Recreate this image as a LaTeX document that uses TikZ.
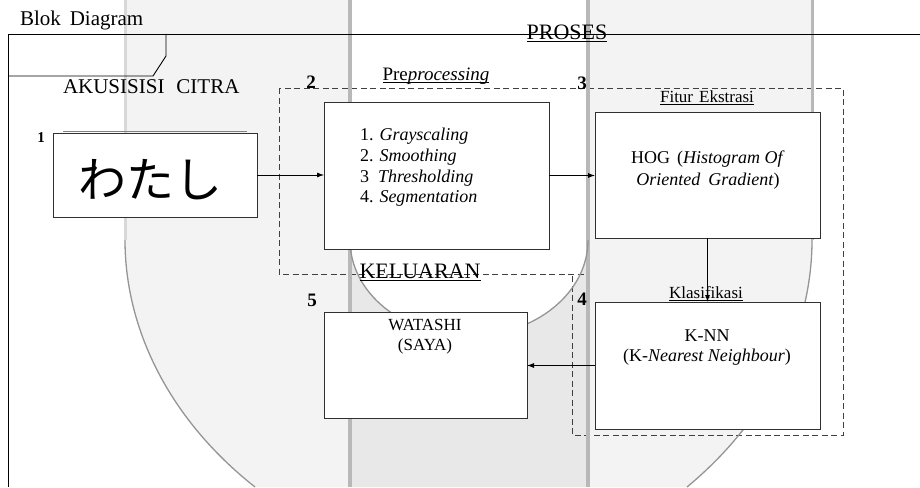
\documentclass[tikz,border=0pt]{standalone}
\usepackage{fontspec}
\setmainfont{Liberation Serif}
\newfontfamily\jpfont{Noto Sans CJK JP}
\usetikzlibrary{arrows.meta}
\definecolor{wmfill}{HTML}{F3F3F3}
\definecolor{wmmid}{HTML}{E8E8E8}
\definecolor{wmstripe}{HTML}{B8B8B8}
\definecolor{wmlight}{HTML}{D8D8D8}
\definecolor{wmcurve}{HTML}{959595}
\definecolor{boxline}{HTML}{303030}
\definecolor{dashline}{HTML}{404040}
\newcommand\setfs[1]{\fontsize{#1}{#1}\selectfont}
\begin{document}
\begin{tikzpicture}[x=1pt,y=-1pt,
  lbl/.style={inner sep=0pt,outer sep=0pt},
  boxn/.style={draw=boxline,fill=white,line width=0.9pt,inner sep=0pt,outer sep=0pt},
  dbox/.style={draw=dashline,line width=0.8pt,dash pattern=on 6pt off 3.5pt},
  arr/.style={-{Latex[length=7pt,width=5pt]},line width=0.8pt,draw=black},
  num/.style={inner sep=0pt,outer sep=0pt,font=\bfseries\setfs{19}},
  uline/.style={line width=0.8pt,draw=black}]
\useasboundingbox (0,0) rectangle (920,487);

% ---- background watermark shape ----
\fill[wmfill] (125,0) -- (125,240) .. controls (125,330) and (170,420) .. (255,487)
  -- (687,487) .. controls (768,420) and (812,330) .. (812,240) -- (812,0) -- (588,0)
  -- (588,240) .. controls (588,293) and (535,336) .. (469,336)
  .. controls (403,336) and (350,293) .. (350,240) -- (350,0) -- cycle;
\fill[wmmid] (350,240) .. controls (350,293) and (403,336) .. (469,336)
  .. controls (535,336) and (588,293) .. (588,240) -- (588,487) -- (350,487) -- cycle;

% ---- dashed group boxes ----
\draw[dbox] (279,88) rectangle (588,274);
\draw[dbox] (588,88) -- (843,88) -- (843,435) -- (572,435) -- (572,274);

% ---- watermark edges ----
\draw[wmlight,line width=3pt] (125,0) -- (125,240);
\draw[wmcurve,line width=1.3pt] (125,240) .. controls (125,330) and (170,420) .. (255,487);
\draw[wmstripe,line width=3pt] (812,0) -- (812,240);
\draw[wmcurve,line width=1.3pt] (812,240) .. controls (812,330) and (768,420) .. (687,487);
\draw[wmstripe,line width=3.5pt] (350,0) -- (350,487);
\draw[wmstripe,line width=3.5pt] (588,0) -- (588,487);
\draw[wmcurve,line width=1.3pt] (350,240) .. controls (350,293) and (403,336) .. (469,336)
  .. controls (535,336) and (588,293) .. (588,240);

% ---- outer frame and tab ----
\draw[black,line width=0.9pt] (920,34) -- (8,34) -- (8,487);
\draw[black,line width=0.9pt] (8,76) -- (153,76) -- (166,56) -- (166,34);

% ---- titles ----
\node[lbl,anchor=base west,font=\setfs{21}] (blok) at (20,26) {Blok\hspace{9pt}Diagram};
\node[lbl,anchor=base west,font=\setfs{21}] (akus) at (63,93) {AKUSISISI\hspace{12pt}CITRA};
\node[lbl,anchor=base,font=\setfs{22}] (proses) at (567,40) {PROSES};
\draw[uline] ([yshift=-1.5pt]proses.base west) -- ([yshift=-1.5pt]proses.base east);
\node[lbl,anchor=base,font=\setfs{19}] (prep) at (436,80) {Pre\textit{processing}};
\draw[uline] ([yshift=-2.5pt]prep.base west) -- ([yshift=-2.5pt]prep.base east);
\node[lbl,anchor=base,font=\setfs{17}] (fitur) at (707,102) {Fitur\hspace{6pt}Ekstrasi};
\draw[uline] ([yshift=-2pt]fitur.base west) -- ([yshift=-2pt]fitur.base east);
\node[lbl,anchor=base,font=\setfs{17}] (klas) at (706,298) {Klasifikasi};
\draw[uline] ([yshift=-2.5pt]klas.base west) -- ([yshift=-2.5pt]klas.base east);
\node[lbl,anchor=base,font=\setfs{22}] (kelu) at (420,278) {KELUARAN};
\draw[uline] ([yshift=-2.5pt]kelu.base west) -- ([yshift=-2.5pt]kelu.base east);

% ---- step numbers ----
\node[num,anchor=base,font=\bfseries\setfs{15}] (n1) at (41,142) {1};
\node[num,anchor=base] (n2) at (311,88) {2};
\node[num,anchor=base] (n3) at (582,89) {3};
\node[num,anchor=base] (n4) at (582,305) {4};
\node[num,anchor=base] (n5) at (312,306) {5};

% ---- boxes ----
\draw[gray,line width=1pt] (63,131) -- (247,131);
\node[boxn,minimum width=204pt,minimum height=84pt] (b1) at (155,175) {};
\node[boxn,minimum width=225pt,minimum height=147pt] (pre) at (436.5,175.5) {};
\node[boxn,minimum width=225pt,minimum height=126pt] (hog) at (707.5,175) {};
\node[boxn,minimum width=225pt,minimum height=127pt] (knn) at (707.5,365.5) {};
\node[boxn,minimum width=203pt,minimum height=106pt] (wat) at (425.5,365) {};

% ---- box texts ----
\node[lbl,font=\jpfont\setfs{48}] (kana) at (150,180) {わたし};
\node[lbl,anchor=base west,font=\setfs{18}] (p1) at (360,140) {1. \textit{Grayscaling}};
\node[lbl,anchor=base west,font=\setfs{18}] (p2) at (360,161) {2. \textit{Smoothing}};
\node[lbl,anchor=base west,font=\setfs{18}] (p3) at (360,182) {3\hspace{9pt}\textit{Thresholding}};
\node[lbl,anchor=base west,font=\setfs{18}] (p4) at (360,202) {4. \textit{Segmentation}};
\node[lbl,anchor=base,font=\setfs{18}] (h1) at (708,163) {HOG\hspace{7pt}(\textit{Histogram Of}};
\node[lbl,anchor=base,font=\setfs{18}] (h2) at (708,185) {\textit{Oriented\hspace{8pt}Gradient})};
\node[lbl,anchor=base,font=\setfs{18}] (k1) at (707,341) {K-NN};
\node[lbl,anchor=base,font=\setfs{18}] (k2) at (707,361) {(K-\textit{Nearest Neighbour})};
\node[lbl,anchor=base,font=\setfs{17}] (w1) at (425,330) {WATASHI};
\node[lbl,anchor=base,font=\setfs{17}] (w2) at (425,350) {(SAYA)};

% ---- connectors ----
\draw[arr] (b1.east) -- (b1.east -| pre.west);
\draw[arr] (pre.east) -- (pre.east -| hog.west);
\draw[arr] (hog.south) -- (knn.north);
\draw[arr] (knn.west) -- (knn.west -| wat.east);
\end{tikzpicture}
\end{document}
